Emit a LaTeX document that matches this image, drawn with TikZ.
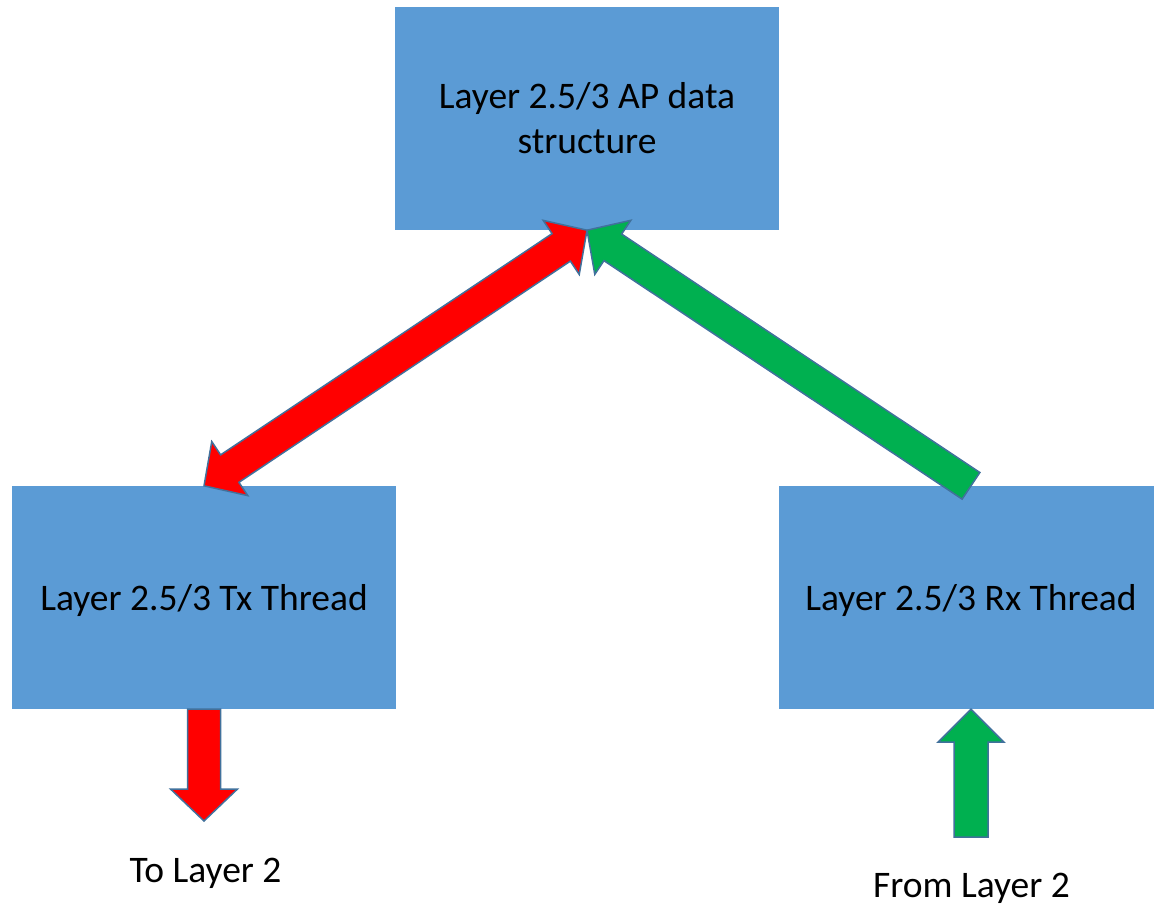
\documentclass[tikz,border=0pt]{standalone}
\usepackage{fontspec}
\setmainfont{Carlito}
\usetikzlibrary{calc}

\definecolor{boxblue}{HTML}{5B9BD5}
\definecolor{edgeblue}{HTML}{41719C}
\definecolor{arrred}{HTML}{FF0000}
\definecolor{arrgreen}{HTML}{00B050}

% Block arrow with one head: style, tail, tip, half shaft width, half head width, head length
\newcommand\singlearrow[6]{%
  \coordinate (sneck) at ($(#3)!#6!(#2)$);
  \draw[#1] ($(#2)!#4!90:(#3)$) -- ($(sneck)!#4!90:(#3)$) -- ($(sneck)!#5!90:(#3)$) -- (#3)
    -- ($(sneck)!#5!-90:(#3)$) -- ($(sneck)!#4!-90:(#3)$) -- ($(#2)!#4!-90:(#3)$) -- cycle;}

% Block arrow with a head at both ends: style, end A, end B, half shaft width, half head width, head length
\newcommand\doublearrow[6]{%
  \coordinate (dnecka) at ($(#2)!#6!(#3)$);
  \coordinate (dneckb) at ($(#3)!#6!(#2)$);
  \draw[#1] (#2) -- ($(dnecka)!#5!90:(#3)$) -- ($(dnecka)!#4!90:(#3)$)
    -- ($(dneckb)!#4!90:(#3)$) -- ($(dneckb)!#5!90:(#3)$) -- (#3)
    -- ($(dneckb)!#5!-90:(#3)$) -- ($(dneckb)!#4!-90:(#3)$)
    -- ($(dnecka)!#4!-90:(#3)$) -- ($(dnecka)!#5!-90:(#3)$) -- cycle;}

% Single line of box text, its baseline set a fixed distance below the box centre
\newcommand\lowline[1]{\raisebox{-12.5pt}[0pt][0pt]{#1}}

\tikzset{
  box/.style={fill=boxblue, minimum width=384pt, minimum height=223pt, inner sep=0pt,
    align=center, font=\fontsize{37.5}{45}\selectfont},
  lbl/.style={inner sep=0pt, anchor=base, font=\fontsize{37.5}{45}\selectfont},
  redarrow/.style={fill=arrred, draw=edgeblue, line width=1.5pt, line join=miter},
  greenarrow/.style={fill=arrgreen, draw=edgeblue, line width=1.5pt, line join=miter},
}

\begin{document}
\begin{tikzpicture}[x=1pt, y=-1pt]
\useasboundingbox (0,0) rectangle (1154,907);

% Boxes
\node[box] (ap) at (587,118.5) {Layer 2.5/3 AP data\\structure};
\node[box] (tx) at (204,597.5) {\lowline{Layer 2.5/3 Tx Thread}};
\node[box] (rx) at (971,597.5) {\lowline{Layer 2.5/3 Rx Thread}};

% Free ends of the outer arrows
\coordinate (txout) at (204,821);
\coordinate (rxin) at (971,837);

% Arrows
\doublearrow{redarrow}{tx.north}{ap.south}{16.5pt}{32.5pt}{31pt}
\singlearrow{greenarrow}{rx.north}{ap.south}{16pt}{32.5pt}{31pt}
\singlearrow{redarrow}{tx.south}{txout}{16.5pt}{33.5pt}{32pt}
\singlearrow{greenarrow}{rxin}{rx.south}{17pt}{33pt}{33pt}

% Outer labels
\node[lbl] (tol2) at (205.5,882) {To Layer 2};
\node[lbl] (froml2) at (971.5,897) {From Layer 2};
\end{tikzpicture}
\end{document}
